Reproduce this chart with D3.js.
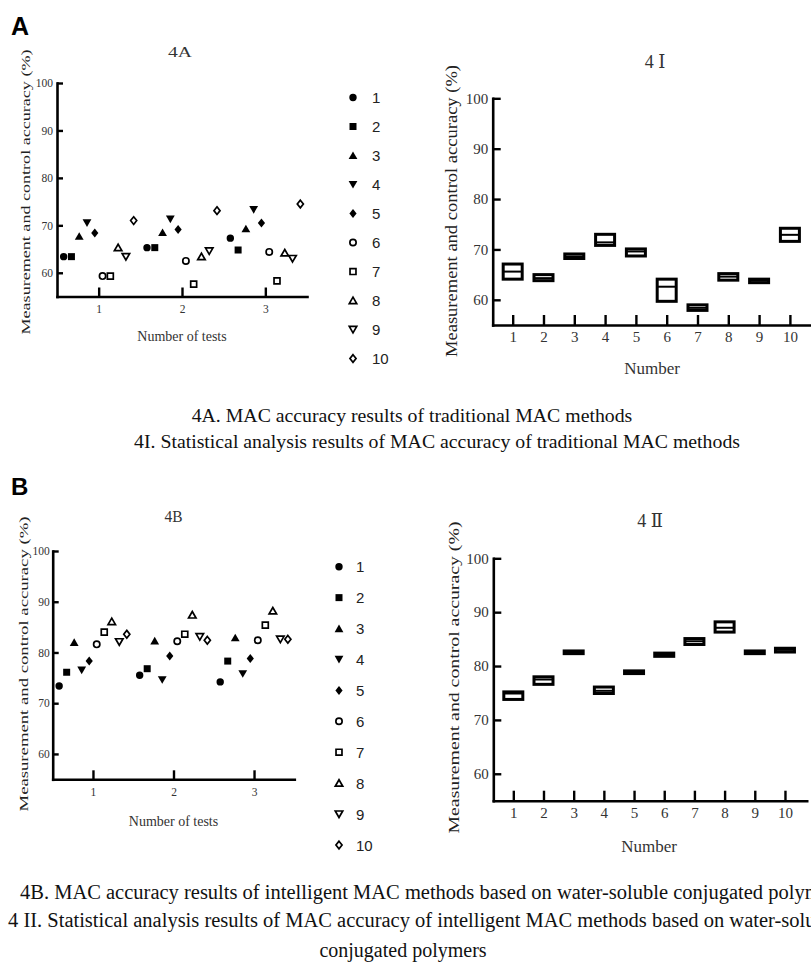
<!DOCTYPE html>
<html>
<head>
<meta charset="utf-8">
<script src="https://cdn.jsdelivr.net/npm/d3@7"></script>
<style>
body { margin: 0; background: #fff; }
svg { display: block; }
</style>
</head>
<body>
<svg width="811" height="963"></svg>
<script>
var svg = d3.select('svg');

const serif = '"Liberation Serif", "Times New Roman", "DejaVu Serif", serif';
const sans = '"Liberation Sans", Arial, sans-serif';

// données
const testNumbers = [1, 2, 3];
const seriesNames = ["1", "2", "3", "4", "5", "6", "7", "8", "9", "10"];
const yTicks = [60, 70, 80, 90, 100];

// 4A : méthodes traditionnelles, 3 essais
const traditionalTest1 = [63.4, 63.4, 67.7, 70.5, 68.4, 59.3, 59.3, 65.3, 63.4, 71.0];
const traditionalTest2 = [65.3, 65.3, 68.5, 71.3, 69.1, 62.5, 57.6, 63.4, 64.6, 73.1];
const traditionalTest3 = [67.3, 64.8, 69.3, 73.3, 70.5, 64.4, 58.3, 64.2, 63.0, 74.5];

// 4B : méthodes intelligentes
const intelligentTest1 = [73.4, 76.1, 82.0, 76.5, 78.3, 81.6, 84.0, 86.1, 82.1, 83.6];
const intelligentTest2 = [75.5, 76.8, 82.3, 74.6, 79.3, 82.2, 83.6, 87.4, 83.1, 82.4];
const intelligentTest3 = [74.2, 78.3, 82.9, 75.8, 78.8, 82.4, 85.4, 88.2, 82.6, 82.6];

// 4 I : boîtes
const boxNumbers = [1, 2, 3, 4, 5, 6, 7, 8, 9, 10];
const tradBoxLow = [64.1, 63.8, 68.2, 70.8, 68.7, 59.7, 57.9, 63.9, 63.4, 71.6];
const tradBoxMid = [65.6, 64.3, 68.6, 71.4, 69.6, 62.6, 58.4, 64.6, 63.8, 72.9];
const tradBoxHigh = [67.1, 65.0, 69.1, 73.0, 70.1, 64.1, 59.0, 65.2, 64.1, 74.2];

// 4 II : boîtes
const intelBoxLow = [73.8, 76.6, 82.3, 74.9, 78.6, 81.8, 84.0, 86.3, 82.3, 82.6];
const intelBoxMid = [74.9, 77.5, 82.5, 75.4, 78.8, 82.1, 84.6, 87.1, 82.5, 83.0];
const intelBoxHigh = [75.2, 78.0, 82.8, 76.1, 79.1, 82.4, 85.1, 88.2, 82.8, 83.3];

// formes des marqueurs (5 pleins, 5 creux)
const shapes = ["circle", "square", "up", "down", "diamond", "circle", "square", "up", "down", "diamond"];

function markerPath(shape, open) {
	const s = open ? 0.85 : 1;
	if (shape == "circle") {
		const p = d3.path();
		p.arc(0, 0, 3.7 * s, 0, 2 * Math.PI);
		return p.toString();
	}
	if (shape == "square") {
		const h = 3.5 * s;
		return `M${-h},${-h}H${h}V${h}H${-h}Z`;
	}
	if (shape == "up") {
		return `M0,${-4 * s}L${4.4 * s},${3.6 * s}L${-4.4 * s},${3.6 * s}Z`;
	}
	if (shape == "down") {
		return `M0,${4 * s}L${4.4 * s},${-3.6 * s}L${-4.4 * s},${-3.6 * s}Z`;
	}
	return `M0,${-4.5 * s}L${3.6 * s},0L0,${4.5 * s}L${-3.6 * s},0Z`;
}

function styleAxis(g, fontSize) {
	g.select('.domain')
		.attr('stroke', '#000')
		.attr('stroke-width', 2.6)
		.attr('stroke-linecap', 'square');
	g.selectAll('.tick line')
		.attr('stroke', '#000')
		.attr('stroke-width', 2.4);
	g.selectAll('.tick text')
		.attr('fill', '#333')
		.style('font-family', serif)
		.style('font-size', fontSize + 'px');
}

function addText(x, y, str, size, opts) {
	opts = opts || {};
	const t = svg.append('text')
		.attr('x', x)
		.attr('y', y)
		.attr('text-anchor', opts.anchor || 'middle')
		.attr('fill', opts.fill || '#222')
		.style('font-family', opts.family || serif)
		.style('font-size', size + 'px')
		.style('font-weight', opts.weight || 'normal')
		.text(str);
	if (opts.length) {
		t.attr('textLength', opts.length).attr('lengthAdjust', 'spacingAndGlyphs');
	}
	return t;
}

function addYLabel(cx, cy, size, length) {
	svg.append('text')
		.attr('transform', `translate(${cx},${cy}) rotate(-90)`)
		.attr('text-anchor', 'middle')
		.attr('dominant-baseline', 'central')
		.attr('fill', '#222')
		.attr('textLength', length)
		.attr('lengthAdjust', 'spacingAndGlyphs')
		.style('font-family', serif)
		.style('font-size', size + 'px')
		.text("Measurement and control accuracy (%)");
}

function drawScatter(cfg, tests) {
	const x = d3.scaleLinear().domain([0.5, 3.5]).range([cfg.left, cfg.right]);
	const y = d3.scaleLinear().domain([55, 100]).range([cfg.bottom, cfg.top]);
	const offset = d3.scaleLinear().domain([0, 9]).range([-0.42, 0.42]);

	const gy = svg.append('g')
		.attr('transform', `translate(${cfg.left},0)`)
		.call(d3.axisLeft(y).tickValues(yTicks).tickSizeInner(-6).tickSizeOuter(0).tickPadding(cfg.yPad));
	styleAxis(gy, cfg.tickFont);

	const gx = svg.append('g')
		.attr('transform', `translate(0,${cfg.bottom})`)
		.call(d3.axisBottom(x).tickValues(testNumbers).tickFormat(d3.format('d'))
			.tickSizeInner(-9).tickSizeOuter(0).tickPadding(cfg.xPad));
	styleAxis(gx, cfg.tickFont);

	// aplatir les essais
	const points = [];
	tests.forEach((vals, ti) => {
		vals.forEach((v, si) => points.push({test: testNumbers[ti], s: si, value: v}));
	});

	svg.append('g').selectAll('path').data(points)
		.enter().append('path')
		.attr('d', d => markerPath(shapes[d.s], d.s >= 5))
		.attr('transform', d => `translate(${x(d.test + offset(d.s))},${y(d.value)})`)
		.attr('fill', d => d.s >= 5 ? '#fff' : '#000')
		.attr('stroke', '#000')
		.attr('stroke-width', d => d.s >= 5 ? 1.7 : 0);

	// légende
	const ly = d3.scaleLinear().domain([0, 9]).range([cfg.legendTop, cfg.legendBottom]);
	const leg = svg.append('g').selectAll('g').data(seriesNames)
		.enter().append('g')
		.attr('transform', (d, i) => `translate(${cfg.legendX},${ly(i)})`);
	leg.append('path')
		.attr('d', (d, i) => markerPath(shapes[i], i >= 5))
		.attr('fill', (d, i) => i >= 5 ? '#fff' : '#000')
		.attr('stroke', '#000')
		.attr('stroke-width', (d, i) => i >= 5 ? 1.7 : 0);
	leg.append('text')
		.attr('x', cfg.legendTextDx)
		.attr('dominant-baseline', 'central')
		.attr('fill', '#222')
		.style('font-family', sans)
		.style('font-size', '15px')
		.text(d => d);
}

function drawBoxes(cfg, low, mid, high) {
	const x = d3.scaleLinear().domain([cfg.xMin, cfg.xMax]).range([cfg.left, cfg.right]);
	const y = d3.scaleLinear().domain([55, 100]).range([cfg.bottom, cfg.top]);

	const gy = svg.append('g')
		.attr('transform', `translate(${cfg.left},0)`)
		.call(d3.axisLeft(y).tickValues(yTicks).tickSizeInner(-8).tickSizeOuter(0).tickPadding(4.5));
	styleAxis(gy, 15);

	const gx = svg.append('g')
		.attr('transform', `translate(0,${cfg.bottom})`)
		.call(d3.axisBottom(x).tickValues(boxNumbers).tickFormat(d3.format('d'))
			.tickSizeInner(-10).tickSizeOuter(0).tickPadding(cfg.xPad));
	styleAxis(gx, 15);

	const boxes = boxNumbers.map((n, i) => ({n: n, low: low[i], mid: mid[i], high: high[i]}));
	const g = svg.append('g');
	g.selectAll('rect').data(boxes)
		.enter().append('rect')
		.attr('x', d => x(d.n) - 9.5)
		.attr('width', 19)
		.attr('y', d => y(d.high))
		.attr('height', d => y(d.low) - y(d.high))
		.attr('fill', '#fff')
		.attr('stroke', '#000')
		.attr('stroke-width', 3);
	g.selectAll('line').data(boxes)
		.enter().append('line')
		.attr('x1', d => x(d.n) - 9.5)
		.attr('x2', d => x(d.n) + 9.5)
		.attr('y1', d => y(d.mid))
		.attr('y2', d => y(d.mid))
		.attr('stroke', '#000')
		.attr('stroke-width', 2);
}

// ---------- partie A ----------
addText(11, 35, "A", 25, {anchor: 'start', family: sans, weight: 'bold', fill: '#000'});
addText(180, 57, "4A", 15, {length: 24, fill: '#333'});
addYLabel(26, 192, 12, 285);
drawScatter({
	left: 57, right: 307, top: 83, bottom: 296.5,
	tickFont: 11.5, yPad: 4, xPad: 8,
	legendX: 353, legendTextDx: 19, legendTop: 97.5, legendBottom: 358.5
}, [traditionalTest1, traditionalTest2, traditionalTest3]);
addText(182, 341, "Number of tests", 14, {fill: '#333'});

addText(655, 68, "4 \u2160", 18, {fill: '#333'});
addYLabel(451, 211, 16, 292);
drawBoxes({
	left: 492.7, right: 811, top: 98.3, bottom: 325,
	xMin: 0.351, xMax: 10.685, xPad: 6.5
}, tradBoxLow, tradBoxMid, tradBoxHigh);
addText(652, 374, "Number", 17, {fill: '#333'});

addText(412, 422, "4A. MAC accuracy results of traditional MAC methods", 19.8, {fill: '#111'});
addText(437, 448, "4I. Statistical analysis results of MAC accuracy of traditional MAC methods", 19.8, {fill: '#111'});

// ---------- partie B ----------
addText(11, 495, "B", 24, {anchor: 'start', family: sans, weight: 'bold', fill: '#000'});
addText(173.5, 521.5, "4B", 16, {length: 18, fill: '#333'});
addYLabel(23, 664, 13, 295);
drawScatter({
	left: 52.7, right: 294.3, top: 551, bottom: 779.3,
	tickFont: 11.5, yPad: 3, xPad: 8.5,
	legendX: 339, legendTextDx: 17, legendTop: 566.7, legendBottom: 845
}, [intelligentTest1, intelligentTest2, intelligentTest3]);
addText(173.5, 826, "Number of tests", 14, {fill: '#333'});

addText(650, 527, "4 \u2161", 18, {fill: '#333'});
addYLabel(454, 677.5, 15, 312);
drawBoxes({
	left: 493.3, right: 806.7, top: 558.3, bottom: 800.7,
	xMin: 0.337, xMax: 10.72, xPad: 7
}, intelBoxLow, intelBoxMid, intelBoxHigh);
addText(649, 852, "Number", 17, {fill: '#333'});

addText(20, 899, "4B. MAC accuracy results of intelligent MAC methods based on water-soluble conjugated polymers", 20.5, {anchor: 'start', fill: '#111'});
addText(8, 927, "4 II. Statistical analysis results of MAC accuracy of intelligent MAC methods based on water-soluble", 20.5, {anchor: 'start', fill: '#111'});
addText(403, 957, "conjugated polymers", 20, {fill: '#111'});
</script>
</body>
</html>
